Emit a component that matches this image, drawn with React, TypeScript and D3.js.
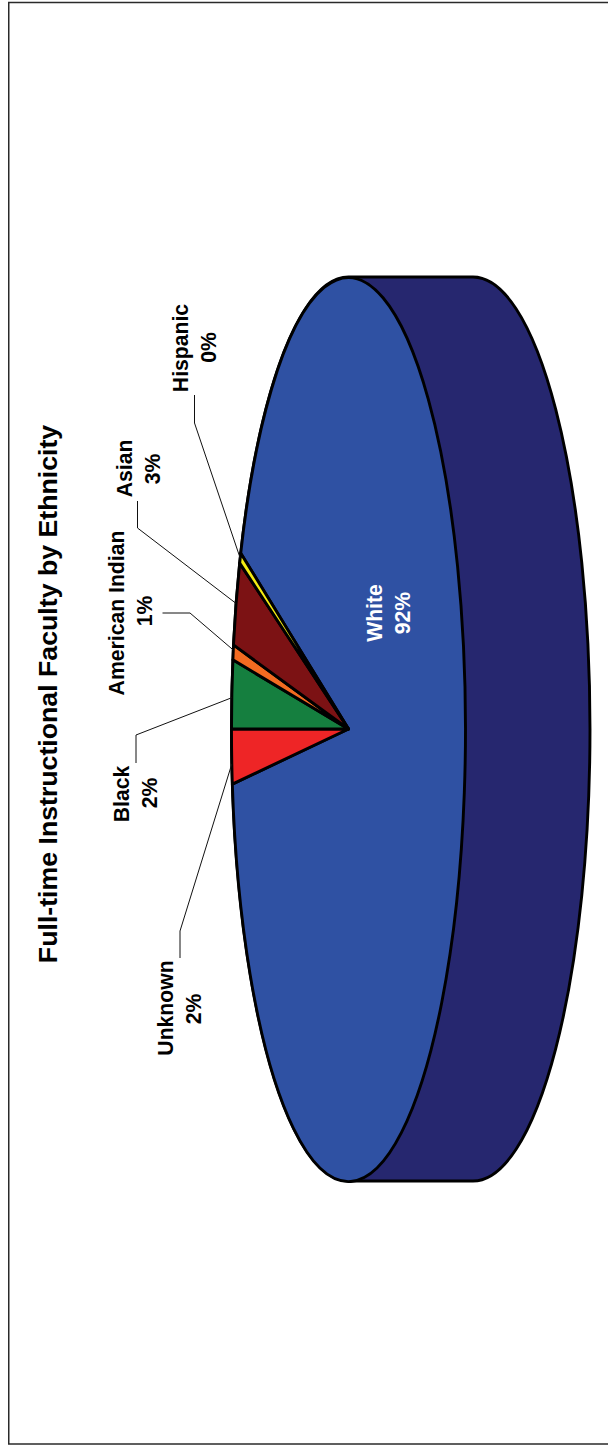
import React from "react";
import * as d3 from "d3";

const categories = ["Unknown", "Black", "American Indian", "Asian", "Hispanic", "White"];
const values = [1.95, 2.45, 0.53, 3.0, 0.38, 91.69];
const shownPercents = ["2%", "2%", "1%", "3%", "0%", "92%"];
const colors = ["#EE2526", "#157F3F", "#F36B21", "#7C1214", "#F5EC13", "#2F51A3"];
const title = "Full-time Instructional Faculty by Ethnicity";

// label baseline x and centre y
const labelX = [172.7, 129, 124, 131.5, 187.7, 382];
const labelY = [1008, 794, 613, 468.5, 348, 613];
const percentX = [200.7, 157, 151.7, 159.5, 215.7, 410];
const percentY = [1009, 793, 611, 469, 347.5, 613];
// the two fixed points of each leader, and where along its slice's rim it lands
const leaderStarts = [[180, 958], [136, 763], [162.5, 613], [137.5, 501], [194.5, 395]];
const leaderElbows = [[180, 931], [136, 735], [190, 613], [137.5, 528], [194.5, 423]];
const leaderRimFractions = [0.37, 0.45, 0.65, 0.5, 0.5];

const W = 608, H = 1447;
const cx = 348.5, cy = 729, rx = 117, ry = 452, depth = 124.5;

export default function App() {
  const total = d3.sum(values);
  const start = -Math.PI / 2 - (2 * Math.PI * values[0]) / total;
  const pie = d3.pie<number>().sort(null).startAngle(start).endAngle(start + 2 * Math.PI);
  const arcs = pie(values);
  const arcGen = d3.arc<d3.PieArcDatum<number>>().innerRadius(0).outerRadius(1);
  const onRim = (a: number): [number, number] => [cx + rx * Math.sin(a), cy - ry * Math.cos(a)];
  const line = d3.line();
  const wall = `M${cx},${cy - ry} L${cx + depth},${cy - ry} A${rx},${ry} 0 0 1 ${cx + depth},${cy + ry} L${cx},${cy + ry} A${rx},${ry} 0 0 1 ${cx},${cy - ry} Z`;
  const order = [5, 0, 1, 2, 3, 4];
  return (
    <svg width={W} height={H} style={{ position: "absolute", left: 0, top: 0 }} fontFamily="'Liberation Sans', Arial, sans-serif">
      <rect x={8.75} y={2.5} width={W + 10} height={1441.5} fill="#fff" stroke="#2a2a2a" strokeWidth={1.5} />
      <path d={wall} fill="#26276F" stroke="#000" strokeWidth={2.9} strokeLinejoin="round" />
      {order.map((i) => (
        <path
          key={categories[i]}
          d={arcGen(arcs[i]) as string}
          transform={`translate(${cx},${cy}) scale(${rx},${ry})`}
          fill={colors[i]}
          stroke="#000"
          strokeWidth={2.9}
          strokeLinejoin="round"
          vectorEffect="non-scaling-stroke"
        />
      ))}
      {leaderStarts.map((s, i) => {
        const a = arcs[i].startAngle + (arcs[i].endAngle - arcs[i].startAngle) * leaderRimFractions[i];
        return (
          <path
            key={i}
            d={line([s as [number, number], leaderElbows[i] as [number, number], onRim(a)]) as string}
            fill="none"
            stroke="#111"
            strokeWidth={1}
          />
        );
      })}
      {categories.map((c, i) => (
        <g key={c} fontSize={21.2} fontWeight={700} fill={i === 5 ? "#fff" : "#000"} textAnchor="middle">
          <text transform={`translate(${labelX[i]},${labelY[i]}) rotate(-90)`}>{c}</text>
          <text transform={`translate(${percentX[i]},${percentY[i]}) rotate(-90)`}>{shownPercents[i]}</text>
        </g>
      ))}
      <text
        transform="translate(57,694) rotate(-90)"
        textAnchor="middle"
        fontSize={26.7}
        fontWeight={700}
        fill="#000"
      >
        {title}
      </text>
    </svg>
  );
}
